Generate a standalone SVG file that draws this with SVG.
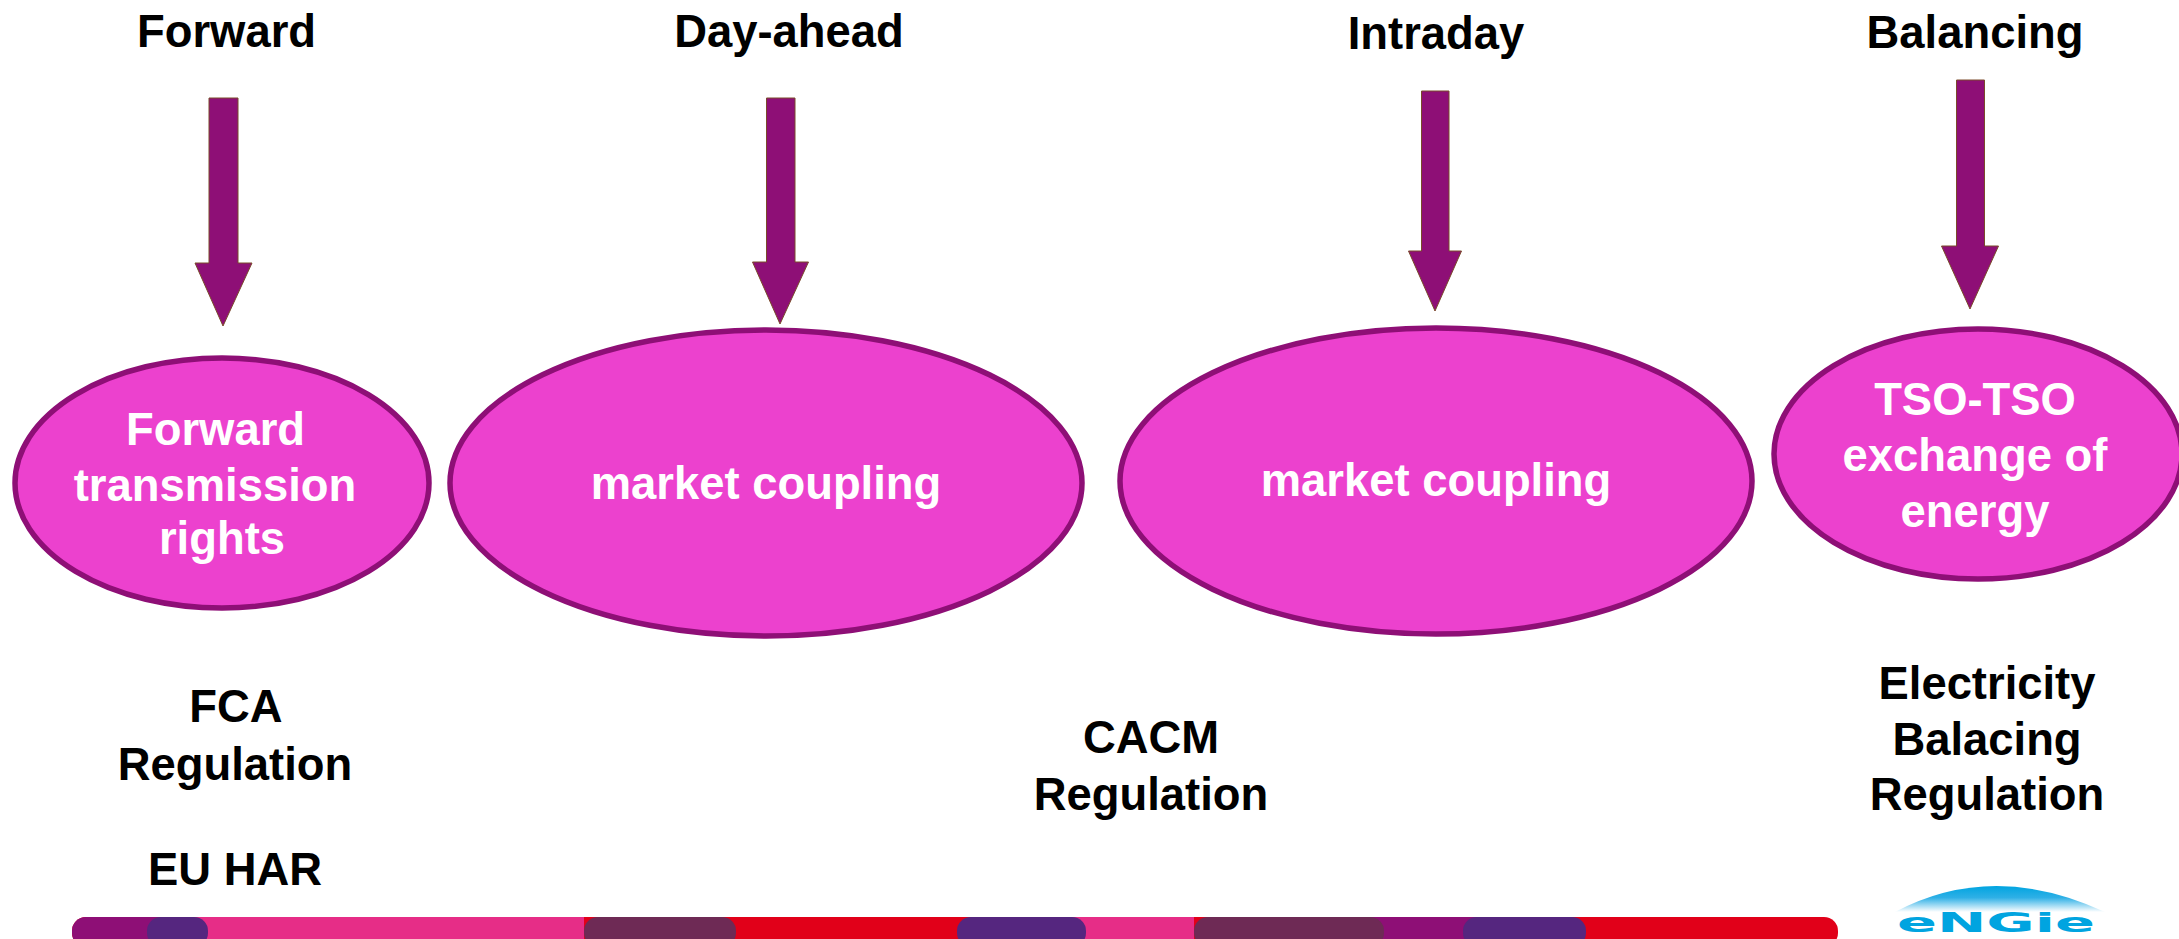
<svg xmlns="http://www.w3.org/2000/svg" width="2179" height="939" viewBox="0 0 2179 939">
<style>
text{font-family:"Liberation Sans",Arial,sans-serif;font-weight:bold;font-size:45.4px;text-anchor:middle}
.k{fill:#000}.w{fill:#fff}
.e{fill:#ec41ce;stroke:#8e0f76;stroke-width:5.5}
.a{fill:#8e0f76;stroke:#7a4a2a;stroke-width:1}
</style>
<defs>
<linearGradient id="arc" x1="0" y1="0" x2="0" y2="1"><stop offset="0" stop-color="#00a4e0"/><stop offset=".45" stop-color="#2fb0e6"/><stop offset="1" stop-color="#fff"/></linearGradient>
</defs>
<rect width="2179" height="939" fill="#fff"/>
<g id="connectors">
<path class="a" d="M209 98H238V263H252L223 326L195 263H209Z"/>
<path class="a" d="M766.500 98H795V262H808.500L780 324L752.500 262H766.500Z"/>
<path class="a" d="M1421.500 91H1449V251H1461.500L1435 311L1408.500 251H1421.500Z"/>
<path class="a" d="M1956.500 80H1984.500V246H1998.500L1970 309L1941.500 246H1956.500Z"/>
</g>
<g id="title-forward"><text class="k" x="226.500" y="46.500">Forward</text></g>
<g id="title-dayahead"><text class="k" x="789" y="46.500">Day-ahead</text></g>
<g id="title-intraday"><text class="k" x="1436" y="49">Intraday</text></g>
<g id="title-balancing"><text class="k" x="1975" y="48">Balancing</text></g>
<g id="node-forward"><ellipse class="e" cx="222" cy="483" rx="207" ry="125"/><text class="w" x="215.500" y="445">Forward</text><text class="w" x="215" y="501">transmission</text><text class="w" x="222" y="554">rights</text></g>
<g id="node-dayahead"><ellipse class="e" cx="766" cy="483" rx="316" ry="153"/><text class="w" x="766" y="499">market coupling</text></g>
<g id="node-intraday"><ellipse class="e" cx="1436" cy="481" rx="316" ry="153"/><text class="w" x="1436" y="496">market coupling</text></g>
<g id="node-balancing"><ellipse class="e" cx="1978" cy="454" rx="204" ry="125"/><text class="w" x="1975" y="415">TSO-TSO</text><text class="w" x="1975" y="471">exchange of</text><text class="w" x="1975" y="527">energy</text></g>
<g id="label-fca"><text class="k" x="236" y="722">FCA</text><text class="k" x="235" y="780">Regulation</text><text class="k" x="235" y="885">EU HAR</text></g>
<g id="label-cacm"><text class="k" x="1151" y="753">CACM</text><text class="k" x="1151" y="810">Regulation</text></g>
<g id="label-balancing"><text class="k" x="1987" y="699">Electricity</text><text class="k" x="1987" y="755">Balacing</text><text class="k" x="1987" y="810">Regulation</text></g>
<g id="footer-bar">
<rect x="72" y="917" width="1766" height="30" rx="14" fill="#e10019"/>
<path d="M186 917H584V947H186ZM1000 917H1194V947H1000Z" fill="#e62d87"/>
<rect x="72" y="917" width="130" height="30" rx="14" fill="#8e0f76"/>
<rect x="147" y="917" width="61" height="30" rx="14" fill="#55267f"/>
<rect x="584" y="917" width="152" height="30" rx="14" fill="#6e2a55"/>
<rect x="1360" y="917" width="130" height="30" fill="#8e0f76"/>
<rect x="957" y="917" width="129" height="30" rx="14" fill="#55267f"/>
<rect x="1194" y="917" width="190" height="30" rx="14" fill="#6e2a55"/>
<rect x="1463" y="917" width="123" height="30" rx="14" fill="#55267f"/>
</g>
<g id="logo">
<path d="M1895 912Q1993 860 2105 912Z" fill="url(#arc)"/>
<text x="1996" y="932" style="font-family:'DejaVu Sans',sans-serif;font-size:27px" fill="#00a4e0" textLength="198" lengthAdjust="spacingAndGlyphs">eNGie</text>
</g>
</svg>
